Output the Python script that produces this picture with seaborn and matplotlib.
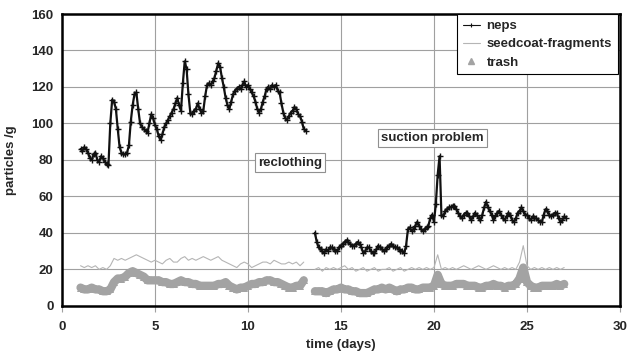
import numpy as np
import pandas as pd
import matplotlib
matplotlib.use("Agg")
import matplotlib.pyplot as plt
from matplotlib.lines import Line2D
import seaborn as sns

# ---------------- data ----------------
STEP_NEPS = 0.1
STEP_OTHER = 0.2

neps_seg1_start = 1.0
neps_seg1 = [86, 85, 87, 86, 84, 81, 80, 83, 84, 80,
             79, 82, 81, 79, 78, 77, 100, 113, 112, 108,
             97, 87, 84, 83, 83, 84, 88, 101, 110, 116,
             117, 108, 100, 98, 97, 96, 95, 100, 105, 103,
             99, 97, 93, 91, 94, 98, 100, 102, 104, 106,
             108, 111, 114, 110, 107, 122, 134, 130, 116, 106,
             105, 107, 108, 111, 108, 106, 107, 115, 121, 122,
             121, 123, 125, 129, 133, 131, 125, 120, 114, 110,
             108, 112, 116, 118, 119, 120, 119, 121, 123, 120,
             121, 119, 117, 115, 112, 108, 106, 108, 112, 115,
             119, 120, 119, 121, 120, 121, 118, 117, 111, 106,
             103, 102, 104, 106, 107, 109, 108, 105, 104, 101,
             97, 96]

neps_seg2_start = 13.6
neps_seg2 = [40, 35, 32, 31, 30, 29, 31, 30, 32, 32,
             31, 30, 30, 32, 33, 34, 35, 36, 35, 34,
             33, 33, 34, 35, 34, 32, 29, 30, 32, 32,
             30, 29, 29, 31, 33, 32, 31, 30, 31, 32,
             33, 34, 33, 32, 32, 31, 30, 30, 29, 33,
             42, 43, 41, 42, 44, 46, 44, 42, 41, 42,
             43, 44, 48, 50, 46, 56, 72, 82, 50, 49,
             52, 53, 54, 54, 55, 55, 53, 51, 49, 48,
             50, 51, 51, 49, 47, 49, 51, 50, 48, 47,
             50, 54, 57, 54, 52, 50, 47, 49, 51, 52,
             50, 48, 47, 49, 51, 50, 47, 46, 48, 51,
             52, 54, 52, 50, 50, 48, 47, 49, 48, 48,
             47, 46, 46, 50, 53, 52, 50, 49, 50, 51,
             51, 48, 46, 47, 49, 48]

seed_seg1_start = 1.0
seed_seg1 = [22, 21, 22, 21, 22, 20, 21, 20, 22, 26,
             25, 26, 25, 26, 27, 28, 27, 26, 25, 24,
             25, 24, 23, 25, 26, 24, 24, 26, 27, 25,
             26, 25, 26, 27, 26, 25, 26, 27, 25, 24,
             23, 22, 21, 23, 24, 23, 21, 22, 23, 24,
             24, 23, 25, 24, 23, 23, 24, 23, 24, 22,
             24]

seed_seg2_start = 13.6
seed_seg2 = [20, 21, 19, 21, 20, 21, 20, 21, 22, 20,
             21, 19, 20, 21, 19, 20, 21, 19, 20, 20,
             21, 19, 20, 21, 19, 20, 21, 20, 21, 20,
             21, 20, 21, 28, 20, 21, 20, 21, 20, 21,
             22, 21, 20, 21, 22, 21, 20, 21, 22, 21,
             20, 21, 20, 21, 20, 24, 33, 22, 20, 21,
             20, 21, 20, 21, 20, 21, 20, 21]

trash_seg1_start = 1.0
trash_seg1 = [10, 9, 9, 10, 9, 9, 8, 8, 9, 13,
              15, 15, 16, 18, 19, 18, 17, 16, 14, 14,
              14, 14, 13, 13, 12, 12, 13, 14, 13, 13,
              12, 12, 11, 11, 11, 11, 11, 12, 12, 13,
              11, 10, 9, 10, 10, 11, 12, 12, 13, 13,
              14, 14, 13, 13, 12, 11, 10, 10, 11, 11,
              14]

trash_seg2_start = 13.6
trash_seg2 = [8, 8, 8, 7, 8, 9, 9, 10, 9, 9,
              8, 8, 7, 7, 7, 8, 9, 9, 10, 9,
              10, 9, 8, 9, 9, 10, 10, 9, 9, 10,
              10, 10, 11, 17, 12, 11, 11, 11, 12, 12,
              12, 11, 11, 11, 10, 10, 11, 11, 12, 11,
              11, 10, 11, 11, 12, 15, 21, 13, 11, 10,
              10, 11, 11, 11, 11, 12, 11, 12]

x_ticks = [0, 5, 10, 15, 20, 25, 30]
y_ticks = [0, 20, 40, 60, 80, 100, 120, 140, 160]
series_names = ["neps", "seedcoat-fragments", "trash"]


def frame(name, segs, step):
    rows = []
    for k, (start, vals) in enumerate(segs):
        for i, v in enumerate(vals):
            rows.append({"series": name, "segment": k,
                         "day": round(start + step * i, 3), "value": v})
    return pd.DataFrame(rows)


df_neps = frame("neps", [(neps_seg1_start, neps_seg1), (neps_seg2_start, neps_seg2)], STEP_NEPS)
df_seed = frame("seedcoat-fragments", [(seed_seg1_start, seed_seg1), (seed_seg2_start, seed_seg2)], STEP_OTHER)
df_trash = frame("trash", [(trash_seg1_start, trash_seg1), (trash_seg2_start, trash_seg2)], STEP_OTHER)

# ---------------- style ----------------
sns.set_style("white")
plt.rcParams["font.family"] = ["Liberation Sans", "DejaVu Sans"]
plt.rcParams["font.weight"] = "bold"

fig = plt.figure(figsize=(6.32, 3.59), dpi=100)
ax = fig.add_axes([0.098, 0.148, 0.883, 0.813])

C_NEPS = "#111111"
C_SEED = "#b5b5b5"
C_TRASH = "#a3a3a3"

sns.lineplot(data=df_trash, x="day", y="value", units="segment", estimator=None,
             color=C_TRASH, lw=6, marker="^", markersize=5.5, markeredgewidth=0,
             ax=ax, zorder=3, legend=False)
sns.lineplot(data=df_seed, x="day", y="value", units="segment", estimator=None,
             color=C_SEED, lw=0.8, ax=ax, zorder=4, legend=False)
sns.lineplot(data=df_neps, x="day", y="value", units="segment", estimator=None,
             color=C_NEPS, lw=1.6, marker="+", markersize=4, markeredgewidth=1.0,
             markeredgecolor=C_NEPS, ax=ax, zorder=5, legend=False)

ax.set_xlim(0, 30)
ax.set_ylim(0, 160)
ax.set_xticks(x_ticks)
ax.set_yticks(y_ticks)
ax.set_xticklabels([str(t) for t in x_ticks], fontsize=9.5, fontweight="bold")
ax.set_yticklabels([str(t) for t in y_ticks], fontsize=9.5, fontweight="bold")
ax.grid(True, color="#a0a0a0", lw=0.8)
ax.set_axisbelow(True)
ax.tick_params(axis="x", length=4, color="#a0a0a0", pad=7, direction="out", bottom=True)
ax.tick_params(axis="y", length=0, pad=6, left=True)
for s in ax.spines.values():
    s.set_color("black")
    s.set_linewidth(1.8)

ax.set_xlabel("time (days)", fontsize=9.5, fontweight="bold", labelpad=4)
ax.set_ylabel("particles /g", fontsize=9.5, fontweight="bold", labelpad=10)

# annotations
box = dict(boxstyle="square,pad=0.25", fc="white", ec="#909090", lw=0.8)
ax.text(12.25, 78.5, "reclothing", ha="center", va="center", fontsize=9.5,
        fontweight="bold", bbox=box, zorder=6)
ax.text(19.9, 92, "suction problem", ha="center", va="center", fontsize=9.5,
        fontweight="bold", bbox=box, zorder=6)

handles = [
    Line2D([], [], color=C_NEPS, lw=0.8, marker="+", markersize=3, markeredgewidth=0.8),
    Line2D([], [], color=C_SEED, lw=0.8),
    Line2D([], [], color=C_TRASH, lw=0, marker="^", markersize=5),
]
leg = ax.legend(handles, series_names, loc="upper right", bbox_to_anchor=(0.996, 1.0),
                borderaxespad=0.0,
                frameon=True, fancybox=False, edgecolor="black", framealpha=1,
                prop={"size": 9.5, "weight": "bold"}, handlelength=1.3,
                handletextpad=0.5, borderpad=0.45, labelspacing=0.45)
leg.get_frame().set_linewidth(0.8)
leg.set_zorder(10)

fig.savefig("out.png", dpi=100)
